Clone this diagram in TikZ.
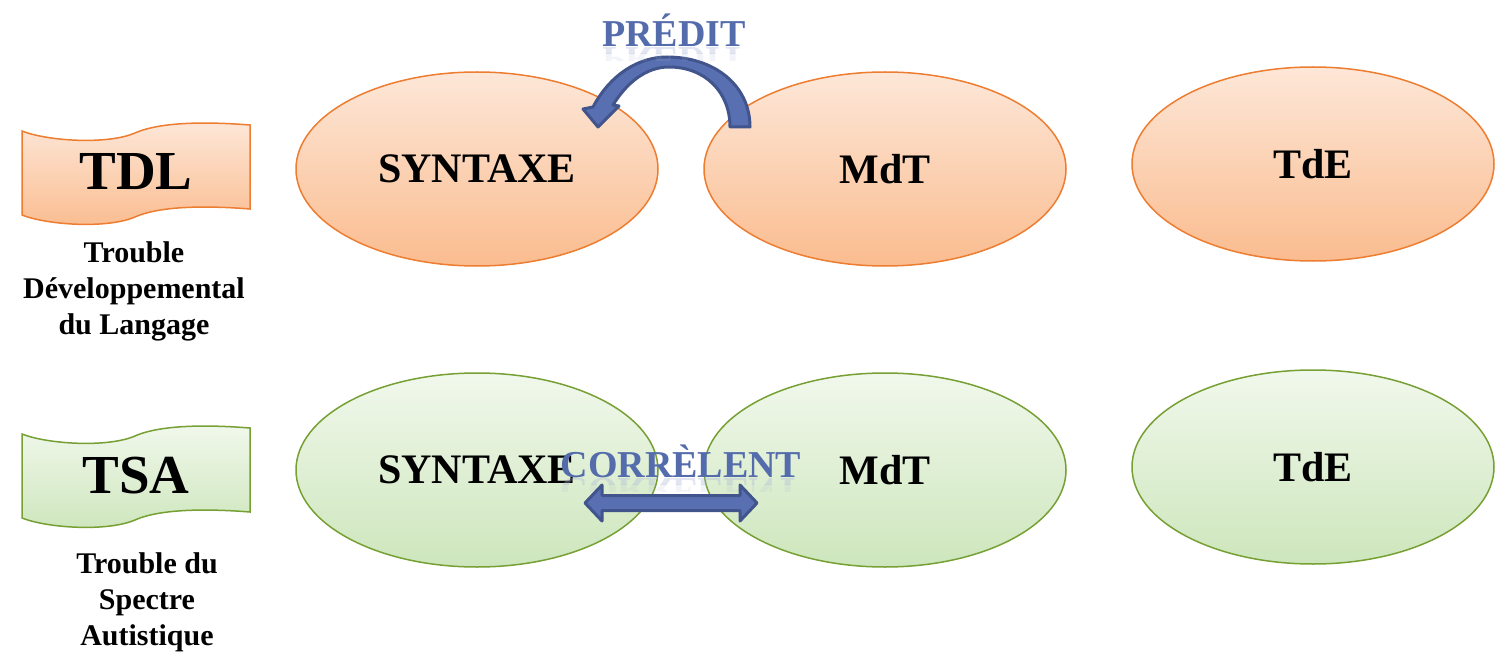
\documentclass[tikz,border=0pt]{standalone}
\usepackage{fontspec}
\setmainfont{Liberation Serif}
\usetikzlibrary{shapes.geometric}

\definecolor{orgline}{RGB}{237,125,49}
\definecolor{orgtop}{RGB}{253,231,216}
\definecolor{orgbot}{RGB}{250,188,143}
\definecolor{grnline}{RGB}{118,160,52}
\definecolor{grntop}{RGB}{241,248,236}
\definecolor{grnbot}{RGB}{205,230,188}
\definecolor{arrfill}{RGB}{88,112,178}
\definecolor{arrline}{RGB}{66,84,140}
\definecolor{wordblue}{RGB}{84,108,172}

\tikzset{
  orgshape/.style={draw=orgline, line width=1.5pt, top color=orgtop, bottom color=orgbot},
  grnshape/.style={draw=grnline, line width=1.5pt, top color=grntop, bottom color=grnbot},
  oval/.style={ellipse, minimum width=362pt, minimum height=194pt, inner sep=0pt,
    font=\bfseries\fontsize{42}{50}\selectfont},
  flagtext/.style={font=\bfseries\fontsize{55}{60}\selectfont, inner sep=0pt},
  caption/.style={align=center, inner sep=0pt, font=\bfseries\fontsize{30}{36}\selectfont},
  blockarrow/.style={fill=arrfill, draw=arrline, line width=3pt, line join=round},
  wordart/.style={font=\bfseries\fontsize{38}{40}\selectfont, text=wordblue, inner sep=0pt, anchor=base},
  wordmirror/.style={font=\bfseries\fontsize{38}{40}\selectfont, text=wordblue!50, inner sep=0pt, anchor=base}
}

% wavy banner with its top-left corner at the current origin
\newcommand\wavebanner[1]{%
  \path[#1] (0,0) .. controls (25,10) and (85,14) .. (113,2)
    .. controls (140,-10) and (190,-9) .. (228,-6)
    -- (228,78) .. controls (190,75) and (140,74) .. (113,86)
    .. controls (85,98) and (25,94) .. (0,84) -- cycle;}

% faded mirror image of a word, below its baseline
\newcommand\mirrorword[3]{%
  \begin{scope}
    \clip ($(#1)+(-130,1)$) rectangle ($(#1)+(130,7)$);
    \node[wordmirror, opacity=0.35] at ($(#1)+(0,1)$) {\scalebox{1}[-1]{#3}};
  \end{scope}
  \begin{scope}
    \clip ($(#1)+(-130,7)$) rectangle ($(#1)+(130,14)$);
    \node[wordmirror, opacity=0.15] at ($(#1)+(0,1)$) {\scalebox{1}[-1]{#3}};
  \end{scope}}

\usetikzlibrary{calc}

\begin{document}
\begin{tikzpicture}[x=1pt,y=-1pt]
\useasboundingbox (0,0) rectangle (1499,655);

% ---- language disorder row ----
\begin{scope}[shift={(22,131)}]
  \wavebanner{orgshape}
\end{scope}
\node[flagtext] (tdl) at (136,172) {TDL};
\node[caption] (tdlname) at (134,291) {Trouble\\Développemental\\du Langage};

\node[oval, orgshape] (syn1) at (477,169) {SYNTAXE};
\node[oval, orgshape] (mdt1) at (885,169) {MdT};
\node[oval, orgshape] (tde1) at (1313,164) {TdE};

% curved "predicts" arrow from MdT back to SYNTAXE
\draw[blockarrow] (750,127) .. controls (750,85) and (714,57) .. (667,57)
  .. controls (638,57) and (610,75) .. (593,107)
  -- (583,109) -- (598,127) -- (619,106) -- (613,105)
  .. controls (626,84) and (645,67) .. (669,67)
  .. controls (705,67) and (730,92) .. (730,127) -- cycle;

\coordinate (pbase) at (674,47);
\mirrorword{pbase}{}{PRÉDIT}
\node[wordart] (predit) at (pbase) {PRÉDIT};

% ---- autism spectrum row ----
\begin{scope}[shift={(22,434)}]
  \wavebanner{grnshape}
\end{scope}
\node[flagtext] (tsa) at (136,476) {TSA};
\node[caption] (tsaname) at (147,602) {Trouble du\\Spectre\\Autistique};

\node[oval, grnshape] (syn2) at (477,470) {SYNTAXE};
\node[oval, grnshape] (mdt2) at (885,470) {MdT};
\node[oval, grnshape] (tde2) at (1313,467) {TdE};

\coordinate (cbase) at (681,477);
\mirrorword{cbase}{}{CORRÈLENT}
\node[wordart] (correl) at (cbase) {CORRÈLENT};

% two-headed "correlate" arrow between SYNTAXE and MdT
\coordinate (cl) at (585,503);
\coordinate (cr) at (757,503);
\draw[blockarrow] (cl) -- ++(17,-18) -- ++(0,10.5) -- ++(138,0) -- ++(0,-10.5)
  -- (cr) -- ++(-17,18) -- ++(0,-10.5) -- ++(-138,0) -- ++(0,10.5) -- cycle;

\end{tikzpicture}
\end{document}
